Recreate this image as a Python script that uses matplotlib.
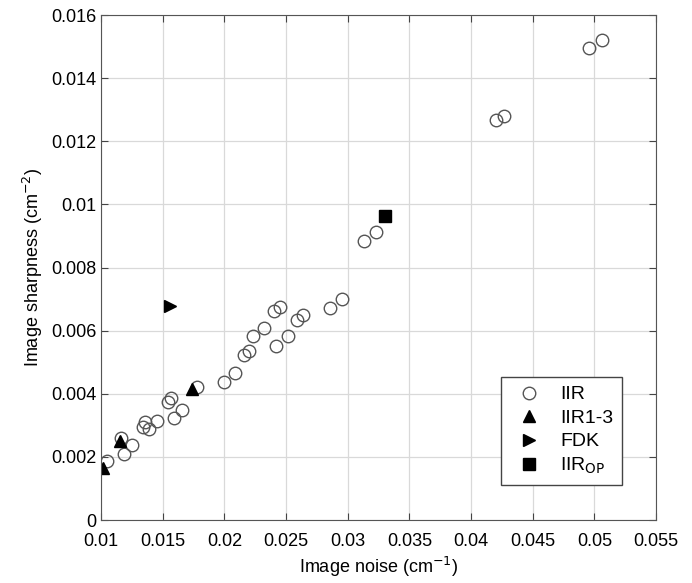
import numpy as np
import matplotlib.pyplot as plt

plt.rcParams['font.family'] = ['Liberation Sans', 'DejaVu Sans']

# IIR reconstructions (open circles)
iir_noise = [0.0105, 0.0116, 0.0119, 0.0125, 0.0134, 0.0136, 0.0139, 0.0145,
             0.0154, 0.0157, 0.0159, 0.0166, 0.0178, 0.0200, 0.0209, 0.0216,
             0.0220, 0.0223, 0.0232, 0.0240, 0.0245, 0.0242, 0.0252, 0.0259,
             0.0264, 0.0286, 0.0295, 0.0313, 0.0323, 0.0420, 0.0427, 0.0496,
             0.0506]
iir_sharp = [0.00186, 0.00260, 0.00210, 0.00238, 0.00296, 0.00310, 0.00289, 0.00315,
             0.00373, 0.00387, 0.00323, 0.00350, 0.00422, 0.00438, 0.00467, 0.00522,
             0.00535, 0.00583, 0.00609, 0.00661, 0.00674, 0.00553, 0.00583, 0.00635,
             0.00649, 0.00672, 0.00700, 0.00885, 0.00912, 0.01267, 0.01280, 0.01495,
             0.01520]

# IIR1-3
iir13_noise = [0.0102, 0.0115, 0.0174]
iir13_sharp = [0.00165, 0.00249, 0.00415]

# FDK
fdk_noise = [0.0156]
fdk_sharp = [0.00677]

# IIR_OP
op_noise = [0.0330]
op_sharp = [0.00963]

fig = plt.figure(figsize=(6.92, 5.83), dpi=100)
ax = fig.add_axes([0.146, 0.108, 0.802, 0.866])

ax.plot(iir_noise, iir_sharp, 'o', markersize=9, markerfacecolor='none',
        markeredgecolor='#555555', markeredgewidth=1.0, label='IIR')
ax.plot(iir13_noise, iir13_sharp, '^', markersize=9, color='black', label='IIR1-3')
ax.plot(fdk_noise, fdk_sharp, '>', markersize=9, color='black', label='FDK')
ax.plot(op_noise, op_sharp, 's', markersize=8, color='black', label='IIR$_{\\mathrm{OP}}$')

ax.set_xlim(0.01, 0.055)
ax.set_ylim(0, 0.016)
ax.set_xticks(np.arange(0.01, 0.0551, 0.005))
ax.set_yticks(np.arange(0, 0.0161, 0.002))
ax.set_xticklabels(['0.01', '0.015', '0.02', '0.025', '0.03', '0.035', '0.04', '0.045', '0.05', '0.055'])
ax.set_yticklabels(['0', '0.002', '0.004', '0.006', '0.008', '0.01', '0.012', '0.014', '0.016'])
ax.grid(True, color='#d9d9d9', linewidth=0.9)
ax.set_axisbelow(True)
ax.tick_params(direction='in', top=True, right=True, labelsize=13, length=5,
               color='#444444')
ax.tick_params(axis='x', pad=9)
for s in ax.spines.values():
    s.set_color('#555555')

ax.set_xlabel('Image noise (cm$^{-1}$)', fontsize=13)
ax.set_ylabel('Image sharpness (cm$^{-2}$)', fontsize=13)

leg = ax.legend(loc='lower right', bbox_to_anchor=(0.939, 0.069), fontsize=14,
                fancybox=False, edgecolor='#444444', framealpha=1,
                handletextpad=0.6, borderpad=0.45, labelspacing=0.3,
                borderaxespad=0)
leg.get_frame().set_linewidth(1.0)

fig.savefig('out.png', dpi=100)
